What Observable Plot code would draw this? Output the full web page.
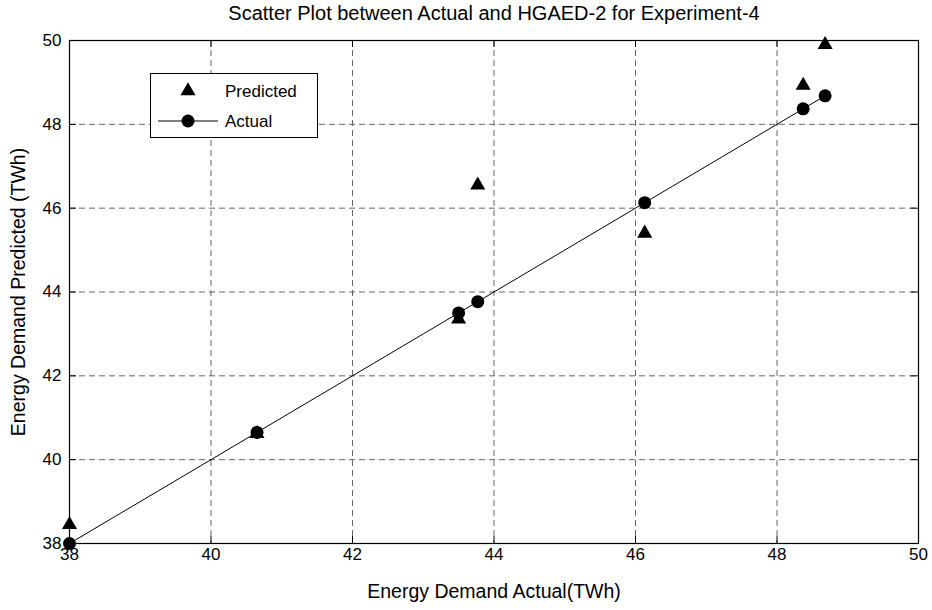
<!DOCTYPE html>
<html>
<head>
<meta charset="utf-8">
<script src="https://cdn.jsdelivr.net/npm/d3@7"></script>
<script src="https://cdn.jsdelivr.net/npm/@observablehq/plot@0.6"></script>
<style>
  html, body { margin: 0; padding: 0; background: #fff; }
  #wrap { position: relative; width: 932px; height: 610px; font-family: "Liberation Sans", Arial, sans-serif; }
  #legend { position: absolute; left: 150px; top: 73px; width: 166px; height: 63px; border: 1px solid #000; background: #fff; }
</style>
</head>
<body>
<div id="wrap"></div>
<script>
const title = "Scatter Plot between Actual and HGAED-2 for Experiment-4";
const xLabel = "Energy Demand Actual(TWh)";
const yLabel = "Energy Demand Predicted (TWh)";
const actual    = [38.0, 40.65, 43.5, 43.77, 46.13, 48.37, 48.68];
const predicted = [38.45, 40.62, 43.35, 46.55, 45.4, 48.93, 49.9];
const xTicks = [38, 40, 42, 44, 46, 48, 50];
const yTicks = [38, 40, 42, 44, 46, 48, 50];
const seriesNames = ["Predicted", "Actual"];

const rows = actual.map((a, i) => ({actual: a, predicted: predicted[i]}));

const W = 932, H = 610;
const mT = 40, mB = 67, mL = 69, mR = 14;
const innerW = W - mL - mR, innerH = H - mT - mB;
const tk = 7;

const chart = Plot.plot({
  width: W,
  height: H,
  marginTop: mT,
  marginBottom: mB,
  marginLeft: mL,
  marginRight: mR,
  style: {fontFamily: '"Liberation Sans", Arial, sans-serif', color: "#000", background: "#fff"},
  x: {domain: [38, 50], axis: null},
  y: {domain: [38, 50], axis: null},
  marks: [
    Plot.gridX(xTicks, {stroke: "#666", strokeOpacity: 1, strokeDasharray: "6,4"}),
    Plot.gridY(yTicks, {stroke: "#666", strokeOpacity: 1, strokeDasharray: "6,4"}),
    Plot.text(xTicks, {x: d => d, text: d => String(d), frameAnchor: "bottom", lineAnchor: "top", dy: 4, fontSize: 17, fill: "#000"}),
    Plot.text(yTicks, {y: d => d, text: d => String(d), frameAnchor: "left", textAnchor: "end", dx: -8, fontSize: 17, fill: "#000"}),
    Plot.ruleX(xTicks, {x: d => d, stroke: "#000", insetTop: innerH - tk}),
    Plot.ruleX(xTicks, {x: d => d, stroke: "#000", insetBottom: innerH - tk}),
    Plot.ruleY(yTicks, {y: d => d, stroke: "#000", insetRight: innerW - tk}),
    Plot.ruleY(yTicks, {y: d => d, stroke: "#000", insetLeft: innerW - tk}),
    Plot.frame({stroke: "#000", strokeWidth: 1.2}),
    Plot.line(rows, {x: "actual", y: "actual", stroke: "#000", strokeWidth: 1}),
    Plot.dot(rows, {x: "actual", y: "predicted", symbol: "triangle", fill: "#000", stroke: "none", r: 5.6}),
    Plot.dot(rows, {x: "actual", y: "actual", symbol: "circle", fill: "#000", stroke: "none", r: 6.5}),
    Plot.text([title], {frameAnchor: "top", lineAnchor: "middle", dy: -27, fontSize: 20, fill: "#000"}),
    Plot.text([xLabel], {frameAnchor: "bottom", lineAnchor: "middle", dy: 48, fontSize: 19.5, fill: "#000"}),
    Plot.text([yLabel], {frameAnchor: "left", textAnchor: "middle", dx: -51, rotate: -90, fontSize: 19.5, fill: "#000"})
  ]
});

const wrap = document.getElementById("wrap");
wrap.appendChild(chart);

// legend overlay
const lg = document.createElement("div");
lg.id = "legend";
const ns = "http://www.w3.org/2000/svg";
const svg = document.createElementNS(ns, "svg");
svg.setAttribute("width", 166);
svg.setAttribute("height", 63);
svg.style.display = "block";
const tri = d3.symbol(d3.symbolTriangle, 5.6 * 5.6 * Math.PI)();
const g1 = document.createElementNS(ns, "path");
g1.setAttribute("d", tri);
g1.setAttribute("transform", "translate(37,17)");
g1.setAttribute("fill", "#000");
svg.appendChild(g1);
const ln = document.createElementNS(ns, "line");
ln.setAttribute("x1", 7); ln.setAttribute("x2", 67);
ln.setAttribute("y1", 47); ln.setAttribute("y2", 47);
ln.setAttribute("stroke", "#000");
svg.appendChild(ln);
const c = document.createElementNS(ns, "circle");
c.setAttribute("cx", 37); c.setAttribute("cy", 47); c.setAttribute("r", 6.5);
c.setAttribute("fill", "#000");
svg.appendChild(c);
seriesNames.forEach((name, i) => {
  const t = document.createElementNS(ns, "text");
  t.setAttribute("x", 74);
  t.setAttribute("y", i === 0 ? 17 : 47);
  t.setAttribute("dominant-baseline", "central");
  t.setAttribute("font-size", 17);
  t.setAttribute("font-family", '"Liberation Sans", Arial, sans-serif');
  t.textContent = name;
  svg.appendChild(t);
});
lg.appendChild(svg);
wrap.appendChild(lg);
</script>
</body>
</html>
